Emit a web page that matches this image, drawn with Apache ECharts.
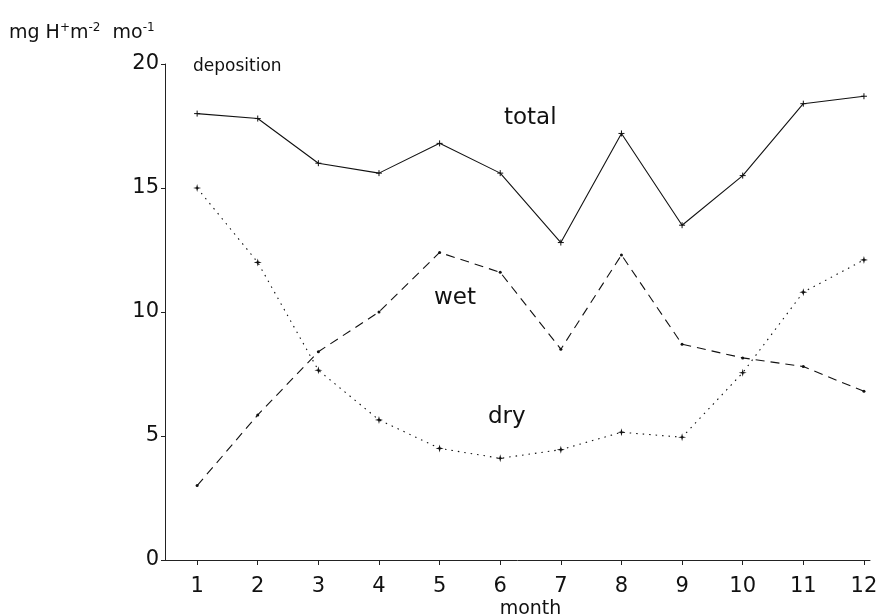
<!DOCTYPE html>
<html><head><meta charset="utf-8">
<script src="https://cdn.jsdelivr.net/npm/echarts@6/dist/echarts.min.js"></script>
<style>html,body{margin:0;padding:0;background:#fff}#c{width:887px;height:614px}</style>
</head><body><div id="c"></div>
<script>
var months = [1,2,3,4,5,6,7,8,9,10,11,12];
var totalVals = [18.0,17.8,16.0,15.6,16.8,15.6,12.8,17.2,13.5,15.5,18.4,18.7];
var wetVals   = [3.0,5.85,8.4,10.0,12.4,11.6,8.5,12.3,8.7,8.15,7.8,6.8];
var dryVals   = [15.0,12.0,7.65,5.65,4.5,4.1,4.45,5.15,4.95,7.55,10.8,12.1];
var yTicks = [0,5,10,15,20];

function pairs(v){ return months.map(function(m,i){ return [m, v[i]]; }); }
var FONT = 'DejaVu Sans';
var plus = 'path://M0,5 L10,5 M5,0 L5,10';
var star = 'path://M5,0 L6,4 L10,5 L6,6 L5,10 L4,6 L0,5 L4,4 Z';

var chart = echarts.init(document.getElementById('c'), null, {renderer:'canvas'});
chart.setOption({
  animation:false,
  backgroundColor:'#fff',
  grid:{left:165, right:17, top:64, bottom:54, containLabel:false, outerBoundsMode:'none'},
  xAxis:{
    type:'value', min:0.47, max:12.1,
    axisLine:{show:true, lineStyle:{color:'#222', width:1}},
    axisTick:{show:true, customValues:months, length:5, lineStyle:{color:'#222'}},
    axisLabel:{customValues:months, color:'#111', fontFamily:FONT, fontSize:21, margin:16},
    splitLine:{show:false},
    name:'month', nameLocation:'middle', nameGap:40, nameMoveOverlap:false,
    nameTextStyle:{color:'#111', fontFamily:FONT, fontSize:19, padding:[0,0,0,26]}
  },
  yAxis:{
    type:'value', min:0, max:20, interval:5,
    axisLine:{show:true, lineStyle:{color:'#222', width:1}},
    axisTick:{show:true, length:4, lineStyle:{color:'#222'}},
    axisLabel:{color:'#111', fontFamily:FONT, fontSize:21, margin:6},
    splitLine:{show:false}
  },
  series:[
    {name:'total', type:'line', data:pairs(totalVals), symbol:plus, symbolSize:6,
     lineStyle:{color:'#111', width:1.1, type:'solid'}, itemStyle:{color:'#111', borderColor:'#111', borderWidth:1}},
    {name:'wet', type:'line', data:pairs(wetVals), symbol:'circle', symbolSize:3,
     lineStyle:{color:'#111', width:1.1, type:[9,6]}, itemStyle:{color:'#111'}},
    {name:'dry', type:'line', data:pairs(dryVals), symbol:star, symbolSize:8,
     lineStyle:{color:'#111', width:1.1, type:[1.5,5]}, itemStyle:{color:'#111'}}
  ],
  graphic:[
    {type:'text', left:9, top:22, style:{
      text:'mg H{s|+}m{s|-2}  mo{s|-1}', fill:'#111',
      font:'19px "'+FONT+'"',
      rich:{s:{fontSize:12, fontFamily:FONT, verticalAlign:'top', padding:[0,0,10,0], fill:'#111'}}
    }},
    {type:'text', left:193, top:58, style:{text:'deposition', fill:'#111', font:'17px "'+FONT+'"'}},
    {type:'text', left:504, top:107, style:{text:'total', fill:'#111', font:'23px "'+FONT+'"'}},
    {type:'text', left:434, top:287, style:{text:'wet', fill:'#111', font:'23px "'+FONT+'"'}},
    {type:'text', left:488, top:406, style:{text:'dry', fill:'#111', font:'23px "'+FONT+'"'}}
  ]
});
</script></body></html>
